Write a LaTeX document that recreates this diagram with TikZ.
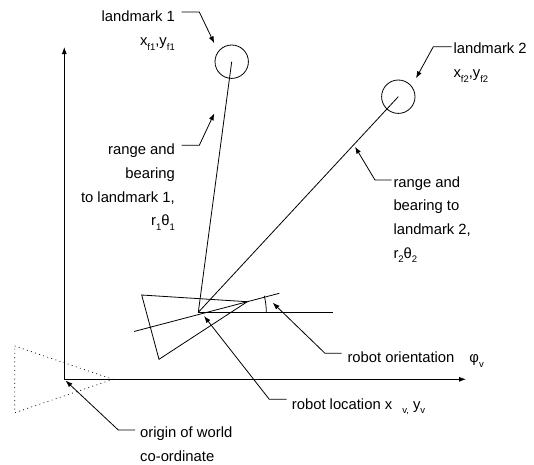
\documentclass[tikz,border=0pt]{standalone}
\usepackage{fontspec}
\setmainfont{Liberation Sans}
\usetikzlibrary{arrows.meta}
\newcommand{\sub}[1]{\raisebox{-0.32em}{\fontsize{9.5}{10}\selectfont #1}}
\tikzset{
  ln/.style={line width=0.8pt},
  leader/.style={line width=0.8pt, -{Latex[length=7pt,width=5pt]}},
  lbl/.style={inner sep=0pt, font=\fontsize{14.8}{23.6}\selectfont},
  lmark/.style={circle, draw, line width=0.8pt, minimum size=33.4pt, inner sep=0pt},
}
\begin{document}
\begin{tikzpicture}[x=1pt,y=-1pt]
\useasboundingbox (0,0) rectangle (534,464);
% axes
\coordinate (O) at (64.3,379.3);
\coordinate (ytip) at (64.3,47);
\coordinate (xtip) at (466,379.3);
\draw[leader] (O) -- (ytip);
\draw[leader] (O) -- (xtip);
% dotted triangle at origin
\coordinate (d1) at (14.7,346);
\coordinate (d2) at (14.7,412.7);
\coordinate (d3) at (113,379.3);
\draw[line width=0.7pt, dash pattern=on 0.9pt off 3.4pt] (d1) -- (d3) -- (d2) -- cycle;
% landmarks
\node[lmark] (lm1) at (231.7,61.7) {};
\node[lmark] (lm2) at (398.3,96.7) {};
% robot
\coordinate (R) at (198.3,312.3);
\coordinate (t1) at (141.7,295);
\coordinate (t2) at (159,359.3);
\coordinate (t3) at (247.3,301.7);
\draw[ln, line join=miter] (t1) -- (t3) -- (t2) -- cycle;
\coordinate (h1) at (134,331.5);
\coordinate (h2) at (279.3,293.3);
\draw[ln] (h1) -- (h2);
\coordinate (hr) at (332.7,312.3);
\draw[ln] (R) -- (hr);
\draw[ln] ([shift={(0:68)}]R) arc[start angle=0, end angle=-14.2, radius=68];
% ranges
\draw[ln] (R) -- (lm1.center);
\draw[ln] (R) -- (lm2.center);
% labels
\node[lbl, align=right, anchor=north east] (L1) at (175,10.4)
  {landmark 1\hspace{7pt}\\[0.4pt] x\sub{f1},y\sub{f1}};
\node[lbl, align=right, anchor=north east] (RB1) at (175,143.9)
  {range and\hspace{6pt}\\ bearing\hspace{3pt}\\ to landmark 1,\hspace{8pt}\\ r\sub{1}θ\sub{1}};
\node[lbl, align=left, anchor=north west] (L2) at (453.3,43)
  {landmark 2\\[0.4pt] x\sub{f2},y\sub{f2}};
\node[lbl, align=left, anchor=north west] (RB2) at (393.3,176.4)
  {range and\\ bearing to\\ landmark 2,\\ r\sub{2}θ\sub{2}};
\node[lbl, anchor=base west] (OR) at (347.3,362.5)
  {robot orientation\hspace{15pt}φ\sub{v}};
\node[lbl, anchor=base west] (LOC) at (291.7,409)
  {robot location x\hspace{10pt}\sub{v,} y\sub{v}};
\node[lbl, align=left, anchor=north west] (ORG) at (140,427)
  {origin of world\\ co-ordinate};
% leaders
\coordinate (a1s) at (181.7,12);   \coordinate (a1b) at (199.3,12);   \coordinate (a1t) at (214.3,43.3);
\coordinate (a2s) at (181.7,145.3);\coordinate (a2b) at (199.3,145.3);\coordinate (a2t) at (214.3,113.3);
\coordinate (a3s) at (451.7,46.7); \coordinate (a3b) at (433.3,46.7); \coordinate (a3t) at (416,78.3);
\coordinate (a4s) at (391.7,180);  \coordinate (a4b) at (375,180);    \coordinate (a4t) at (355,146.7);
\coordinate (a5s) at (341.7,353.3);\coordinate (a5b) at (325,353.3);  \coordinate (a5t) at (272.7,302.7);
\coordinate (a6s) at (286.7,399.3);\coordinate (a6b) at (269.3,399.3);\coordinate (a6t) at (204,316);
\coordinate (a7s) at (135,430);    \coordinate (a7b) at (118.3,430);  \coordinate (a7t) at (65.5,380.5);
\draw[leader] (a1s) -- (a1b) -- (a1t);
\draw[leader] (a2s) -- (a2b) -- (a2t);
\draw[leader] (a3s) -- (a3b) -- (a3t);
\draw[leader] (a4s) -- (a4b) -- (a4t);
\draw[leader] (a5s) -- (a5b) -- (a5t);
\draw[leader] (a6s) -- (a6b) -- (a6t);
\draw[leader] (a7s) -- (a7b) -- (a7t);
\end{tikzpicture}
\end{document}
